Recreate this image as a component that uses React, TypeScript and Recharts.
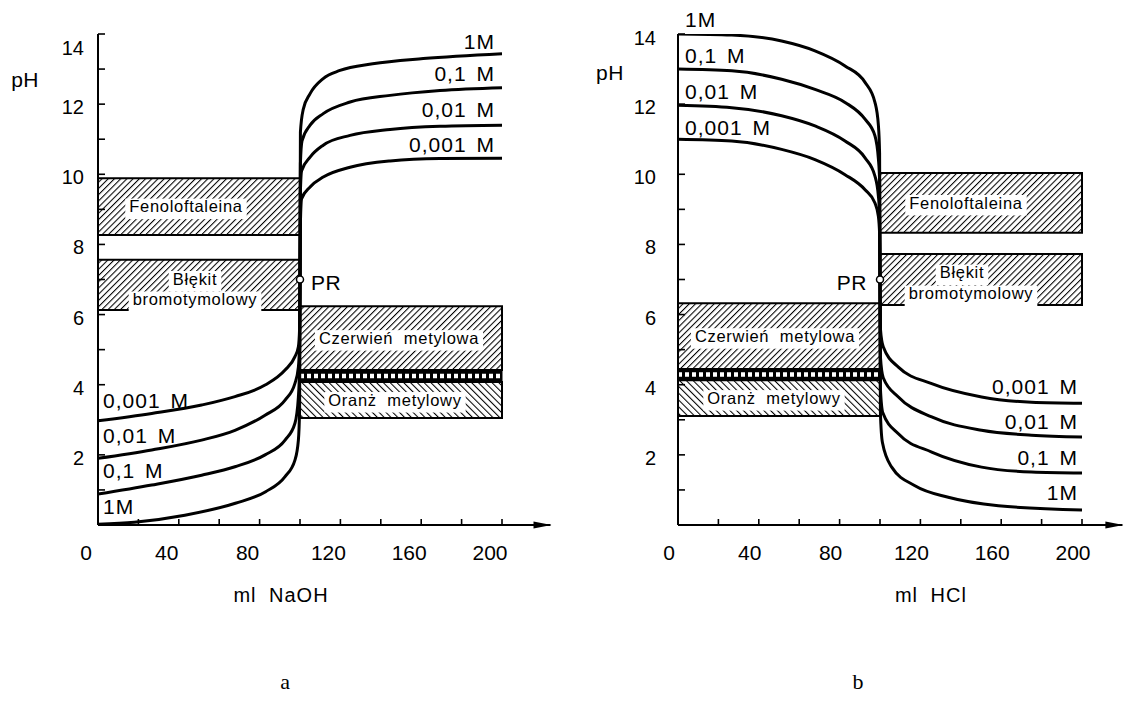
import React from 'react';
import {
  ComposedChart,
  Line,
  XAxis,
  YAxis,
  ReferenceArea,
  ReferenceDot,
  ReferenceLine,
} from 'recharts';

const SANS = '"Liberation Sans", Arial, Helvetica, sans-serif';
const SERIF = '"Liberation Serif", "Times New Roman", Times, serif';

type Pt = { ml: number; pH: number };

// ---------- axes ----------
const xTicks = [0, 20, 40, 60, 80, 100, 120, 140, 160, 180, 200];
const xTickLabels = [0, 40, 80, 120, 160, 200];
const yTicks = [1, 2, 3, 4, 5, 6, 7, 8, 9, 10, 11, 12, 13, 14];
const yTickLabels = [2, 4, 6, 8, 10, 12, 14];

const concentrationLabels = ['1M', '0,1 M', '0,01 M', '0,001 M'];

// ---------- panel a: strong acid titrated with NaOH ----------
const naoh1M: Pt[] = [
  { ml: 0, pH: 0.02 }, { ml: 18, pH: 0.08 }, { ml: 43, pH: 0.28 }, { ml: 68, pH: 0.62 },
  { ml: 83, pH: 0.95 }, { ml: 92.6, pH: 1.38 }, { ml: 97.5, pH: 1.85 }, { ml: 99.2, pH: 2.42 },
  { ml: 99.8, pH: 3.3 }, { ml: 100, pH: 7 }, { ml: 100.2, pH: 11.2 }, { ml: 101.6, pH: 11.85 },
  { ml: 105, pH: 12.3 }, { ml: 111.5, pH: 12.73 }, { ml: 119.8, pH: 12.96 }, { ml: 136, pH: 13.15 },
  { ml: 161, pH: 13.3 }, { ml: 200, pH: 13.44 },
];
const naoh01M: Pt[] = [
  { ml: 0, pH: 0.88 }, { ml: 26.6, pH: 1.14 }, { ml: 51.3, pH: 1.42 }, { ml: 67.8, pH: 1.66 },
  { ml: 82.7, pH: 2.0 }, { ml: 92.6, pH: 2.42 }, { ml: 97.5, pH: 2.9 }, { ml: 99.2, pH: 3.65 },
  { ml: 99.8, pH: 4.5 }, { ml: 100, pH: 7 }, { ml: 100.2, pH: 10.3 }, { ml: 101, pH: 10.95 },
  { ml: 105, pH: 11.4 }, { ml: 111.5, pH: 11.73 }, { ml: 124.8, pH: 12.06 }, { ml: 144.6, pH: 12.25 },
  { ml: 169.3, pH: 12.39 }, { ml: 200, pH: 12.47 },
];
const naoh001M: Pt[] = [
  { ml: 0, pH: 1.9 }, { ml: 26.6, pH: 2.14 }, { ml: 51.3, pH: 2.42 }, { ml: 67.8, pH: 2.7 },
  { ml: 82.7, pH: 3.13 }, { ml: 92.6, pH: 3.56 }, { ml: 97.5, pH: 4.04 }, { ml: 99.2, pH: 4.5 },
  { ml: 99.8, pH: 5.2 }, { ml: 100, pH: 7 }, { ml: 100.2, pH: 9.5 }, { ml: 100.8, pH: 10.1 },
  { ml: 105, pH: 10.49 }, { ml: 111.5, pH: 10.83 }, { ml: 124.8, pH: 11.11 }, { ml: 144.6, pH: 11.28 },
  { ml: 169.3, pH: 11.37 }, { ml: 200, pH: 11.4 },
];
const naoh0001M: Pt[] = [
  { ml: 0, pH: 2.97 }, { ml: 26.6, pH: 3.18 }, { ml: 51.3, pH: 3.42 }, { ml: 67.8, pH: 3.66 },
  { ml: 82.7, pH: 3.99 }, { ml: 92.6, pH: 4.42 }, { ml: 97.5, pH: 4.8 }, { ml: 99.2, pH: 5.08 },
  { ml: 99.8, pH: 5.6 }, { ml: 100, pH: 7 }, { ml: 100.2, pH: 8.6 }, { ml: 100.8, pH: 9.3 },
  { ml: 105, pH: 9.64 }, { ml: 111.5, pH: 9.92 }, { ml: 124.8, pH: 10.2 }, { ml: 144.6, pH: 10.38 },
  { ml: 169.3, pH: 10.45 }, { ml: 200, pH: 10.46 },
];

// ---------- panel b: strong base titrated with HCl ----------
const hcl1M: Pt[] = [
  { ml: 0, pH: 14.0 }, { ml: 26.6, pH: 13.97 }, { ml: 51.3, pH: 13.8 }, { ml: 67.8, pH: 13.52 },
  { ml: 82.7, pH: 13.09 }, { ml: 92.6, pH: 12.62 }, { ml: 97.5, pH: 12.05 }, { ml: 99.2, pH: 11.4 },
  { ml: 99.8, pH: 10.6 }, { ml: 100, pH: 7 }, { ml: 100.2, pH: 3.2 }, { ml: 101.2, pH: 2.35 },
  { ml: 105.8, pH: 1.65 }, { ml: 117.3, pH: 1.12 }, { ml: 133.8, pH: 0.79 }, { ml: 158.6, pH: 0.55 },
  { ml: 200, pH: 0.43 },
];
const hcl01M: Pt[] = [
  { ml: 0, pH: 13.0 }, { ml: 26.6, pH: 12.95 }, { ml: 51.3, pH: 12.71 }, { ml: 67.8, pH: 12.42 },
  { ml: 82.7, pH: 12.05 }, { ml: 92.6, pH: 11.57 }, { ml: 97.5, pH: 11.1 }, { ml: 99.2, pH: 10.44 },
  { ml: 99.8, pH: 9.8 }, { ml: 100, pH: 7 }, { ml: 100.2, pH: 3.9 }, { ml: 101.4, pH: 3.2 },
  { ml: 109.1, pH: 2.6 }, { ml: 125.6, pH: 2.08 }, { ml: 150.3, pH: 1.65 }, { ml: 175, pH: 1.51 },
  { ml: 200, pH: 1.48 },
];
const hcl001M: Pt[] = [
  { ml: 0, pH: 11.97 }, { ml: 26.6, pH: 11.9 }, { ml: 51.3, pH: 11.67 }, { ml: 67.8, pH: 11.38 },
  { ml: 82.7, pH: 10.95 }, { ml: 92.6, pH: 10.47 }, { ml: 97.5, pH: 9.95 }, { ml: 99.2, pH: 9.38 },
  { ml: 99.8, pH: 8.8 }, { ml: 100, pH: 7 }, { ml: 100.2, pH: 4.8 }, { ml: 101.6, pH: 4.2 },
  { ml: 109.1, pH: 3.65 }, { ml: 125.6, pH: 3.08 }, { ml: 150.3, pH: 2.7 }, { ml: 175, pH: 2.56 },
  { ml: 200, pH: 2.51 },
];
const hcl0001M: Pt[] = [
  { ml: 0, pH: 11.0 }, { ml: 26.6, pH: 10.95 }, { ml: 51.3, pH: 10.71 }, { ml: 67.8, pH: 10.42 },
  { ml: 82.7, pH: 9.99 }, { ml: 92.6, pH: 9.56 }, { ml: 97.5, pH: 9.18 }, { ml: 99.2, pH: 8.8 },
  { ml: 99.8, pH: 8.3 }, { ml: 100, pH: 7 }, { ml: 100.2, pH: 5.6 }, { ml: 101.6, pH: 5.08 },
  { ml: 109.1, pH: 4.5 }, { ml: 125.6, pH: 4.03 }, { ml: 150.3, pH: 3.65 }, { ml: 175, pH: 3.5 },
  { ml: 200, pH: 3.47 },
];

// ---------- indicators (pH transition ranges) ----------
const indicatorNames = [['Fenoloftaleina'], ['Błękit', 'bromotymolowy'], ['Czerwień  metylowa'], ['Oranż  metylowy']];
const indicatorHatch = ['fwd', 'fwd', 'fwd', 'back'];
const indicatorsA_low = [8.27, 6.13, 4.42, 3.05];
const indicatorsA_high = [9.89, 7.56, 6.24, 4.08];
const indicatorsA_xFrom = [0, 0, 100, 100];
const indicatorsA_xTo = [100, 100, 200, 200];
const indicatorsB_low = [8.33, 6.27, 4.45, 3.11];
const indicatorsB_high = [10.04, 7.73, 6.32, 4.13];
const indicatorsB_xFrom = [100, 100, 0, 0];
const indicatorsB_xTo = [200, 200, 100, 100];

// equivalence point
const equivalencePoint = { ml: 100, pH: 7 };

// curve label anchors (data coordinates)
const labelsA_startPH = [0.51, 1.54, 2.54, 3.54];
const labelsA_endPH = [13.77, 12.86, 11.83, 10.84];
const labelsB_startPH = [14.4, 13.38, 12.36, 11.33];
const labelsB_endPH = [0.91, 1.91, 2.95, 3.95];

// ---------- geometry ----------
const PX_PER_ML = 2.02;
const X_AXIS_Y = 525;
const PLOT_TOP = 34;
const Y_AXIS_W = 60;
const X_AXIS_H = 30;

const CHAR_W: Record<string, number> = {
  F: 0.611, e: 0.556, n: 0.556, o: 0.556, l: 0.222, f: 0.278, t: 0.278, a: 0.556, i: 0.222,
  B: 0.667, 'ł': 0.222, 'ę': 0.556, k: 0.5, b: 0.556, r: 0.333, m: 0.833, y: 0.5, w: 0.722,
  C: 0.722, z: 0.5, 'ń': 0.556, ' ': 0.278, O: 0.778, 'ż': 0.5,
};
const textWidth = (s: string, fs: number, ls: number) =>
  s.split('').reduce((a, c) => a + (CHAR_W[c] ?? 0.55) * fs + ls, 0);

const XTick = (props: any) => {
  const { x, y, payload, labelDx } = props;
  const v = payload.value;
  return (
    <g>
      <line x1={x} y1={y} x2={x} y2={y - 6} stroke="#000" strokeWidth={1.6} />
      {xTickLabels.includes(v) && (
        <text x={x + labelDx} y={y + 35} textAnchor="middle" fontSize={21} fontFamily={SANS} fill="#000">
          {v}
        </text>
      )}
    </g>
  );
};

const YTick = (props: any) => {
  const { x, y, payload, gap, topDy } = props;
  const v = payload.value;
  return (
    <g>
      <line x1={x} y1={y} x2={x + 7} y2={y} stroke="#000" strokeWidth={1.6} />
      {yTickLabels.includes(v) && (
        <text x={x - gap} y={y + (v === 14 ? topDy : 10)} textAnchor="end" fontSize={20} fontFamily={SANS} fill="#000">
          {v}
        </text>
      )}
    </g>
  );
};

const BandLabel = (props: any) => {
  const vb = props.viewBox || {};
  const { lines, dys, dxs } = props;
  const fs = 16.5;
  const ls = 0.7;
  const cy = vb.y + vb.height / 2;
  return (
    <g>
      {lines.map((t: string, i: number) => {
        const cx = vb.x + vb.width / 2 + dxs[i];
        const w = textWidth(t, fs, ls);
        const base = cy + dys[i] + fs * 0.36;
        return (
          <g key={i}>
            <rect x={cx - w / 2 - 4} y={base - fs * 0.78 - 1} width={w + 8} height={fs + 4} fill="#fff" />
            <text x={cx} y={base} textAnchor="middle" fontSize={fs} letterSpacing={ls} fontFamily={SANS} fill="#000" style={{ whiteSpace: 'pre' }}>
              {t}
            </text>
          </g>
        );
      })}
    </g>
  );
};

function textMark(key: string, ml: number, pH: number, text: string, opts: any = {}) {
  const { anchor = 'start', size = 21, family = SANS, ls = 1, ws = 3 } = opts;
  return (
    <ReferenceDot
      key={key}
      x={ml}
      y={pH}
      r={0}
      ifOverflow="visible"
      isFront
      shape={(p: any) => (
        <text
          x={p.cx}
          y={p.cy}
          textAnchor={anchor}
          fontSize={size}
          fontFamily={family}
          letterSpacing={ls}
          wordSpacing={ws}
          fill="#000"
        >
          {text}
        </text>
      )}
    />
  );
}

type PanelProps = {
  id: string;
  pageLeft: number;
  width: number;
  plotLeft: number;
  xMax: number;
  series: Pt[][];
  low: number[];
  high: number[];
  xFrom: number[];
  xTo: number[];
  bandDx: number[][];
  bandLabelDys: number[];
  startPH: number[];
  startMl: number;
  endPH: number[];
  endMl: number;
  prRight: boolean;
  xLabelDx: number;
  yGap: number;
  yTopDy: number;
  axisTitle: string;
  axisTitleMl: number;
  phLabelMl: number;
  phLabelPH: number;
  letter: string;
  letterMl: number;
};

function Panel(p: PanelProps) {
  const plotW = p.xMax * PX_PER_ML;
  const height = 715;
  const margin = {
    top: PLOT_TOP,
    right: p.width - p.plotLeft - plotW,
    bottom: height - X_AXIS_Y - X_AXIS_H,
    left: p.plotLeft - Y_AXIS_W,
  };
  const pxToPH = (px: number) => (X_AXIS_Y - px) / ((X_AXIS_Y - PLOT_TOP) / 14);
  const stripIdx = 2;
  const stripLow = p.high[3];
  const stripHigh = p.low[2];
  return (
    <div style={{ position: 'absolute', left: p.pageLeft, top: 0, width: p.width, height }}>
      <ComposedChart width={p.width} height={height} margin={margin}>
        <defs>
          <pattern id={`${p.id}-fwd`} patternUnits="userSpaceOnUse" width={4.4} height={4.4} patternTransform="rotate(45)">
            <rect width={4.4} height={4.4} fill="#fff" />
            <line x1={0} y1={0} x2={0} y2={4.4} stroke="#000" strokeWidth={2.1} />
          </pattern>
          <pattern id={`${p.id}-back`} patternUnits="userSpaceOnUse" width={4.8} height={4.8} patternTransform="rotate(-45)">
            <rect width={4.8} height={4.8} fill="#fff" />
            <line x1={0} y1={0} x2={0} y2={4.8} stroke="#000" strokeWidth={2.1} />
          </pattern>
        </defs>
        <XAxis
          type="number"
          dataKey="ml"
          domain={[0, p.xMax]}
          allowDataOverflow
          ticks={xTicks}
          interval={0}
          tickSize={0}
          tickMargin={0}
          tickLine={false}
          height={X_AXIS_H}
          axisLine={{ stroke: '#000', strokeWidth: 2 }}
          tick={<XTick labelDx={p.xLabelDx} />}
        />
        <YAxis
          type="number"
          domain={[0, 14]}
          allowDataOverflow
          ticks={yTicks}
          interval={0}
          tickSize={0}
          tickMargin={0}
          tickLine={false}
          width={Y_AXIS_W}
          axisLine={{ stroke: '#000', strokeWidth: 2 }}
          tick={<YTick gap={p.yGap} topDy={p.yTopDy} />}
        />
        {indicatorNames.map((names, i) => (
          <ReferenceArea
            key={`band-${i}`}
            x1={p.xFrom[i]}
            x2={p.xTo[i]}
            y1={p.low[i]}
            y2={p.high[i]}
            fill={`url(#${p.id}-${indicatorHatch[i]})`}
            fillOpacity={1}
            stroke="#000"
            strokeWidth={2}
            ifOverflow="visible"
            label={<BandLabel lines={names} dys={i === 1 ? p.bandLabelDys : [0]} dxs={p.bandDx[i]} />}
          />
        ))}
        <ReferenceArea
          x1={p.xFrom[stripIdx]}
          x2={p.xTo[stripIdx]}
          y1={stripLow}
          y2={stripHigh}
          fill="#000"
          fillOpacity={1}
          stroke="#000"
          strokeWidth={1}
          ifOverflow="visible"
        />
        <ReferenceLine
          segment={[
            { x: p.xFrom[stripIdx], y: (stripLow + stripHigh) / 2 },
            { x: p.xTo[stripIdx], y: (stripLow + stripHigh) / 2 },
          ]}
          stroke="#fff"
          strokeWidth={4.5}
          strokeDasharray="4 3"
          ifOverflow="visible"
        />
        {p.series.map((d, i) => (
          <Line
            key={`s-${i}`}
            data={d}
            dataKey="pH"
            type="monotone"
            stroke="#000"
            strokeWidth={3}
            dot={false}
            activeDot={false}
            isAnimationActive={false}
          />
        ))}
        <ReferenceDot
          x={equivalencePoint.ml}
          y={equivalencePoint.pH}
          r={3.5}
          fill="#fff"
          stroke="#000"
          strokeWidth={1.5}
          ifOverflow="visible"
          isFront
        />
        {textMark('pr', equivalencePoint.ml + (p.prRight ? 5.4 : -6.5), equivalencePoint.pH - 0.29, 'PR', {
          anchor: p.prRight ? 'start' : 'end',
          size: 21,
          ls: 0.5,
        })}
        {concentrationLabels.map((t, i) =>
          textMark(`ls-${i}`, p.startMl, p.startPH[i] - 0.21, t, { anchor: 'start' })
        )}
        {concentrationLabels.map((t, i) =>
          textMark(`le-${i}`, p.endMl, p.endPH[i] - 0.21, t, { anchor: 'end' })
        )}
        <ReferenceDot
          x={p.xMax}
          y={0}
          r={1}
          ifOverflow="visible"
          isFront
          shape={(s: any) => (
            <path d={`M${s.cx + 1},${s.cy} L${s.cx - 17},${s.cy - 3.5} L${s.cx - 17},${s.cy + 3.5} Z`} fill="#000" />
          )}
        />
        {textMark('title', p.axisTitleMl, pxToPH(602), p.axisTitle, { anchor: 'middle', size: 20, ls: 1, ws: 6 })}
        {textMark('ph', p.phLabelMl, p.phLabelPH, 'pH', { anchor: 'start', size: 21, ls: 0.5 })}
        {textMark('letter', p.letterMl, pxToPH(689), p.letter, { anchor: 'middle', size: 22, family: SERIF, ls: 0 })}
      </ComposedChart>
    </div>
  );
}

export default function App() {
  return (
    <div style={{ position: 'absolute', left: 0, top: 0, width: 1126, height: 715, background: '#fff', overflow: 'hidden' }}>
      <Panel
        id="pa"
        pageLeft={0}
        width={563}
        plotLeft={98}
        xMax={224}
        series={[naoh1M, naoh01M, naoh001M, naoh0001M]}
        low={indicatorsA_low}
        high={indicatorsA_high}
        xFrom={indicatorsA_xFrom}
        xTo={indicatorsA_xTo}
        bandDx={[[-13], [-4, -4], [-2], [-6]]}
        bandLabelDys={[-6, 14.5]}
        startPH={labelsA_startPH}
        startMl={2.5}
        endPH={labelsA_endPH}
        endMl={196.5}
        prRight={true}
        xLabelDx={-12}
        yGap={14}
        yTopDy={21}
        axisTitle="ml NaOH"
        axisTitleMl={90.6}
        phLabelMl={-43}
        phLabelPH={12.49}
        letter="a"
        letterMl={92.6}
      />
      <Panel
        id="pb"
        pageLeft={563}
        width={563}
        plotLeft={115}
        xMax={220}
        series={[hcl1M, hcl01M, hcl001M, hcl0001M]}
        low={indicatorsB_low}
        high={indicatorsB_high}
        xFrom={indicatorsB_xFrom}
        xTo={indicatorsB_xTo}
        bandDx={[[-15], [-19, -10], [-4], [-5]]}
        bandLabelDys={[-7, 14]}
        startPH={labelsB_startPH}
        startMl={3.5}
        endPH={labelsB_endPH}
        endMl={198}
        prRight={false}
        xLabelDx={-9}
        yGap={22}
        yTopDy={11}
        axisTitle="ml HCl"
        axisTitleMl={125.2}
        phLabelMl={-40.6}
        phLabelPH={12.7}
        letter="b"
        letterMl={89.1}
      />
    </div>
  );
}
